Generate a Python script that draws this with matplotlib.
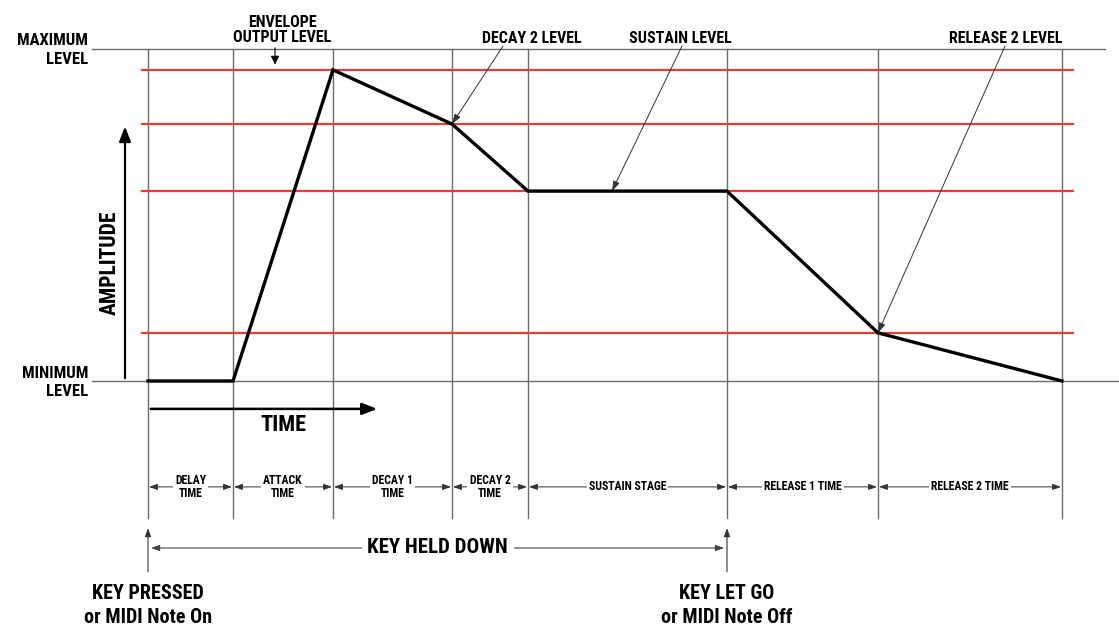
import numpy as np
import matplotlib
matplotlib.use('Agg')
import matplotlib.pyplot as plt
from matplotlib import font_manager

# Envelope stages (durations in ms) and the levels they reach (fraction of maximum)
stage_names = ['DELAY\nTIME', 'ATTACK\nTIME', 'DECAY 1\nTIME', 'DECAY 2\nTIME',
               'SUSTAIN STAGE', 'RELEASE 1 TIME', 'RELEASE 2 TIME']
stage_durations = [85, 100, 119, 76, 199, 151, 184]
stage_end_levels = [0.0, 0.937, 0.774, 0.572, 0.572, 0.145, 0.0]

# Reference levels drawn as red lines
red_levels = [0.937, 0.774, 0.572, 0.145]
max_level = 1.0
min_level = 0.0

# Level callouts at the top
callout_labels = ['DECAY 2 LEVEL', 'SUSTAIN LEVEL', 'RELEASE 2 LEVEL']
callout_text_x = [384, 532, 858]
callout_arrow_x = [355, 534, 857]
callout_target_x = [304, 464, 730]
callout_target_y = [0.774, 0.572, 0.145]

# pick a narrow bold face if we have one
fonts = font_manager.fontManager.ttflist
names = {f.name for f in fonts}
FONT, STRETCH = 'DejaVu Sans', 'normal'
for cand in ['Liberation Sans Narrow', 'Roboto Condensed', 'Open Sans Condensed']:
    if cand in names:
        FONT = cand
        break
else:
    for f in fonts:
        if f.name in ('DejaVu Sans', 'Noto Sans', 'Open Sans', 'Roboto') and f.stretch in ('condensed', 500, 'semi-condensed'):
            FONT, STRETCH = f.name, f.stretch
            break
plt.rcParams['font.family'] = FONT
plt.rcParams['font.stretch'] = STRETCH
plt.rcParams['font.weight'] = 'bold'

times = np.concatenate([[0], np.cumsum(stage_durations)])
levels = np.concatenate([[0.0], stage_end_levels])

fig = plt.figure(figsize=(11.19, 6.26), dpi=100)
ax = fig.add_axes([0, 0, 1, 1])
# one data unit of time = 1 px, amplitude 1.0 = 332 px
ax.set_xlim(-148, 971)
ax.set_ylim(-245 / 332, 381 / 332)
ax.axis('off')

grey = '#6b6b6b'
red = '#e63b36'

# max / min level lines
ax.plot([-56, 957], [max_level, max_level], color=grey, lw=1.0)
ax.plot([-56, 970], [min_level, min_level], color=grey, lw=1.0)

# vertical stage boundaries
for t in times:
    ax.plot([t, t], [max_level, -0.413], color=grey, lw=1.0)

# red reference levels
for lv in red_levels:
    ax.plot([-6, 925], [lv, lv], color=red, lw=1.6)

# the envelope itself
ax.plot(times, levels, color='black', lw=2.4, solid_joinstyle='miter', zorder=5)

# left labels
ax.text(-60, 1.027, 'MAXIMUM', ha='right', va='center', fontsize=12)
ax.text(-60, 0.967, 'LEVEL', ha='right', va='center', fontsize=12)
ax.text(-60, 0.024, 'MINIMUM', ha='right', va='center', fontsize=12)
ax.text(-60, -0.033, 'LEVEL', ha='right', va='center', fontsize=12)

# amplitude / time axes arrows
ax.annotate('', xy=(-23, 0.775), xytext=(-23, 0.0),
            arrowprops=dict(arrowstyle='-|>,head_length=0.9,head_width=0.35',
                            color='black', lw=1.6))
ax.text(-38, 0.355, 'AMPLITUDE', rotation=90, ha='center', va='center', fontsize=15.5)
ax.annotate('', xy=(232, -0.084), xytext=(0, -0.084),
            arrowprops=dict(arrowstyle='-|>,head_length=0.9,head_width=0.35',
                            color='black', lw=1.8))
ax.text(135, -0.133, 'TIME', ha='center', va='center', fontsize=16)

# envelope output level callout
ax.text(134, 1.081, 'ENVELOPE', ha='center', va='center', fontsize=11.5)
ax.text(134, 1.036, 'OUTPUT LEVEL', ha='center', va='center', fontsize=11.5)
ax.annotate('', xy=(127, 0.945), xytext=(127, 1.012),
            arrowprops=dict(arrowstyle='-|>,head_length=0.5,head_width=0.25',
                            color='black', lw=0.8))

# other level callouts
for lab, tx, ax_x, gx, gy in zip(callout_labels, callout_text_x, callout_arrow_x,
                                  callout_target_x, callout_target_y):
    ax.text(tx, 1.033, lab, ha='center', va='center', fontsize=11.5)
    ax.annotate('', xy=(gx, gy), xytext=(ax_x, 1.009),
                arrowprops=dict(arrowstyle='-|>,head_length=0.6,head_width=0.2',
                                color='#333333', lw=0.7, shrinkA=0, shrinkB=0))

# stage duration row
row_y = -0.319
for name, t0, t1 in zip(stage_names, times[:-1], times[1:]):
    ax.annotate('', xy=(t0 + 1, row_y), xytext=(t1 - 1, row_y),
                arrowprops=dict(arrowstyle='<|-|>,head_length=0.5,head_width=0.18',
                                color='#333333', lw=0.7, shrinkA=0, shrinkB=0))
    ax.text((t0 + t1) / 2, row_y, name, ha='center', va='center', fontsize=8.5,
            linespacing=0.95,
            bbox=dict(facecolor='white', edgecolor='none', pad=1.5))

# key held down
key_off = times[5]
for t in [0, key_off]:
    ax.annotate('', xy=(t, -0.443), xytext=(t, -0.575),
                arrowprops=dict(arrowstyle='-|>,head_length=0.5,head_width=0.18',
                                color='#333333', lw=0.8, shrinkA=0, shrinkB=0))
ax.annotate('', xy=(3, -0.503), xytext=(key_off - 3, -0.503),
            arrowprops=dict(arrowstyle='<|-|>,head_length=0.5,head_width=0.18',
                            color='#444444', lw=0.8, shrinkA=0, shrinkB=0))
ax.text(key_off / 2, -0.503, 'KEY HELD DOWN', ha='center', va='center', fontsize=15,
        bbox=dict(facecolor='white', edgecolor='none', pad=4))

ax.text(0, -0.639, 'KEY PRESSED', ha='center', va='center', fontsize=14.5)
ax.text(0, -0.711, 'or MIDI Note On', ha='center', va='center', fontsize=14.5)
ax.text(key_off, -0.639, 'KEY LET GO', ha='center', va='center', fontsize=14.5)
ax.text(key_off, -0.711, 'or MIDI Note Off', ha='center', va='center', fontsize=14.5)

fig.savefig('out.png', dpi=100, facecolor='white')
